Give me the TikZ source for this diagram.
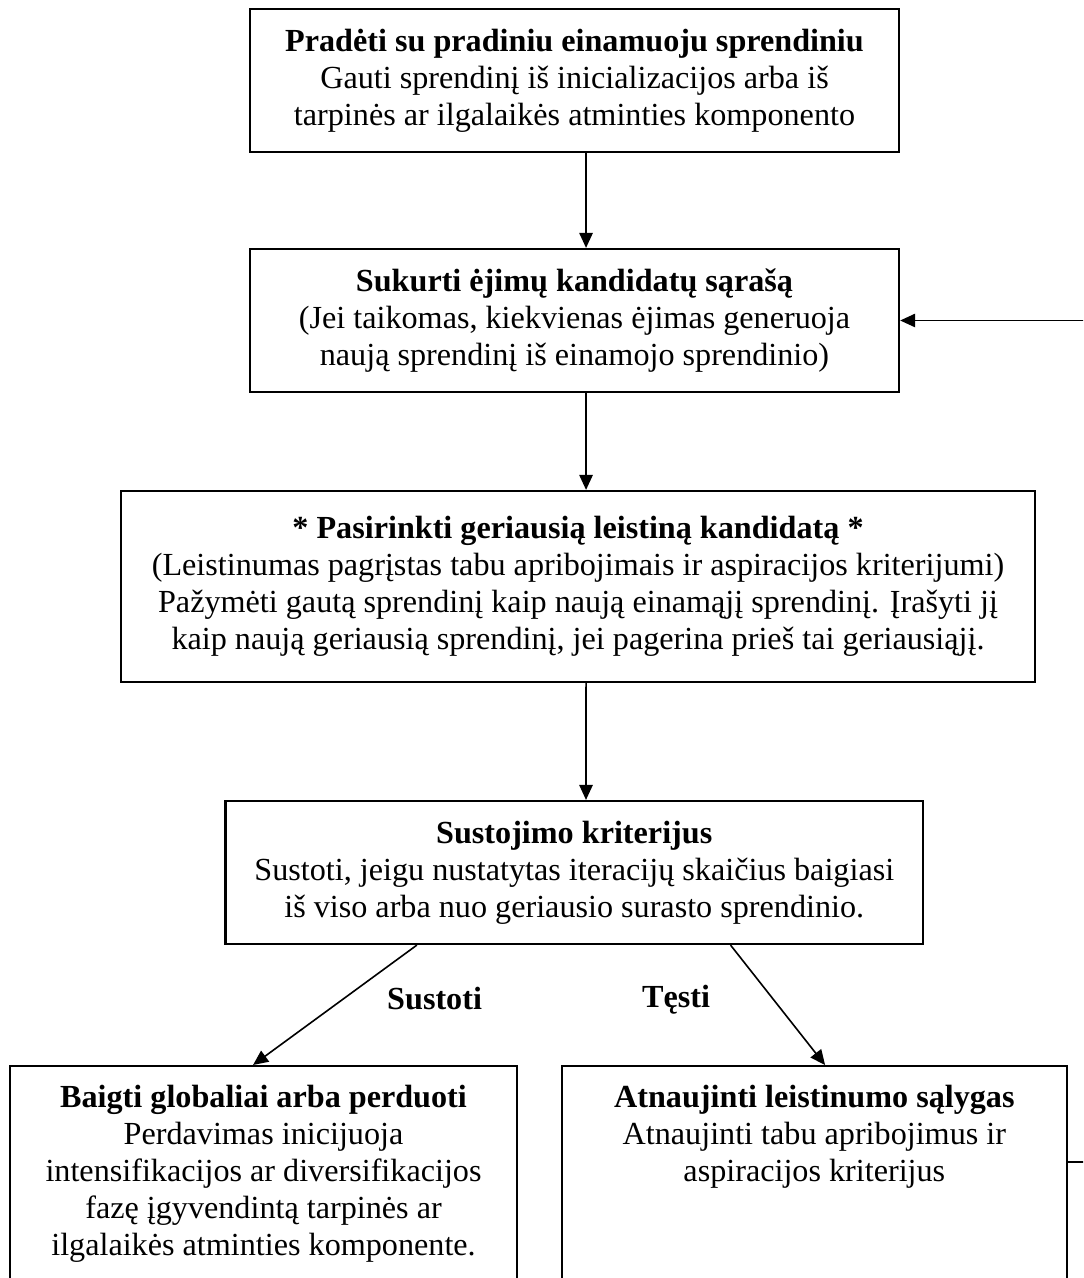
\documentclass[tikz,border=0pt]{standalone}
\usepackage{fontspec}
\setmainfont{Liberation Serif}
\usetikzlibrary{arrows.meta}

\begin{document}
\begin{tikzpicture}[x=0.373pt, y=-0.373pt]

% Define box, arrow and label styles
\tikzstyle{stepbox} = [draw=black, line width=0.85pt, rectangle, align=center,
    inner sep=0pt, font=\fontsize{12pt}{13.8pt}\selectfont]
\tikzstyle{flow} = [draw=black, line width=0.6pt,
    -{Triangle[length=5.6pt, width=5pt]}]
\tikzstyle{choice} = [font=\fontsize{12pt}{13.8pt}\selectfont\bfseries]

\useasboundingbox (0,0) rectangle (1083,1278);
\clip (0,0) rectangle (1083,1278);

\node[stepbox, minimum width=242.1pt, minimum height=53.3pt] (start) at (574.5,80.5) {%
    \textbf{Pradėti su pradiniu einamuoju sprendiniu}\\
    Gauti sprendinį iš inicializacijos arba iš\\
    tarpinės ar ilgalaikės atminties komponento};

\node[stepbox, minimum width=242.1pt, minimum height=53.3pt] (moves) at (574.5,320.5) {%
    \textbf{Sukurti ėjimų kandidatų sąrašą}\\
    (Jei taikomas, kiekvienas ėjimas generuoja\\
    naują sprendinį iš einamojo sprendinio)};

\node[stepbox, minimum width=340.9pt, minimum height=71.2pt] (select) at (578,586.5) {%
    \textbf{* Pasirinkti geriausią leistiną kandidatą *}\\
    (Leistinumas pagrįstas tabu apribojimais ir aspiracijos kriterijumi)\\
    Pažymėti gautą sprendinį kaip naują einamąjį sprendinį. Įrašyti jį\\
    kaip naują geriausią sprendinį, jei pagerina prieš tai geriausiąjį.};

\node[stepbox, minimum width=260.2pt, minimum height=53.3pt] (stopcrit) at (574.25,872.5) {%
    \textbf{Sustojimo kriterijus}\\
    Sustoti, jeigu nustatytas iteracijų skaičius baigiasi\\
    iš viso arba nuo geriausio surasto sprendinio.};

\node[stepbox, anchor=north, minimum width=189.1pt, inner ysep=7pt, text depth=80pt] (finish) at (263.5,1065) {%
    \textbf{Baigti globaliai arba perduoti}\\
    Perdavimas inicijuoja\\
    intensifikacijos ar diversifikacijos\\
    fazę įgyvendintą tarpinės ar\\
    ilgalaikės atminties komponente.};

\node[stepbox, anchor=north, minimum width=188.3pt, inner ysep=7pt, text depth=80pt] (update) at (814.35,1065) {%
    \textbf{Atnaujinti leistinumo sąlygas}\\
    Atnaujinti tabu apribojimus ir\\
    aspiracijos kriterijus};

\node[choice] (stoplbl) at (434.6,999) {Sustoti};
\node[choice] (golbl) at (676,1000) {Tęsti};

\draw[flow] ([xshift=4.3pt]start.south) -- ([xshift=4.3pt]moves.north);
\draw[flow] ([xshift=4.3pt]moves.south) -- ([xshift=3pt]select.north);
\draw[flow] ([xshift=3pt]select.south) -- ([xshift=4.38pt]stopcrit.north);
\draw[flow] ([xshift=-58.7pt]stopcrit.south) -- ([xshift=-3.9pt]finish.north);
\draw[flow] ([xshift=58.3pt]stopcrit.south) -- ([xshift=4pt]update.north);

% back to the candidate list
\coordinate (loopturn) at (1110,1161.7);
\draw[flow] (loopturn -| update.east) -- (loopturn) |- (moves.east);

\end{tikzpicture}
\end{document}
